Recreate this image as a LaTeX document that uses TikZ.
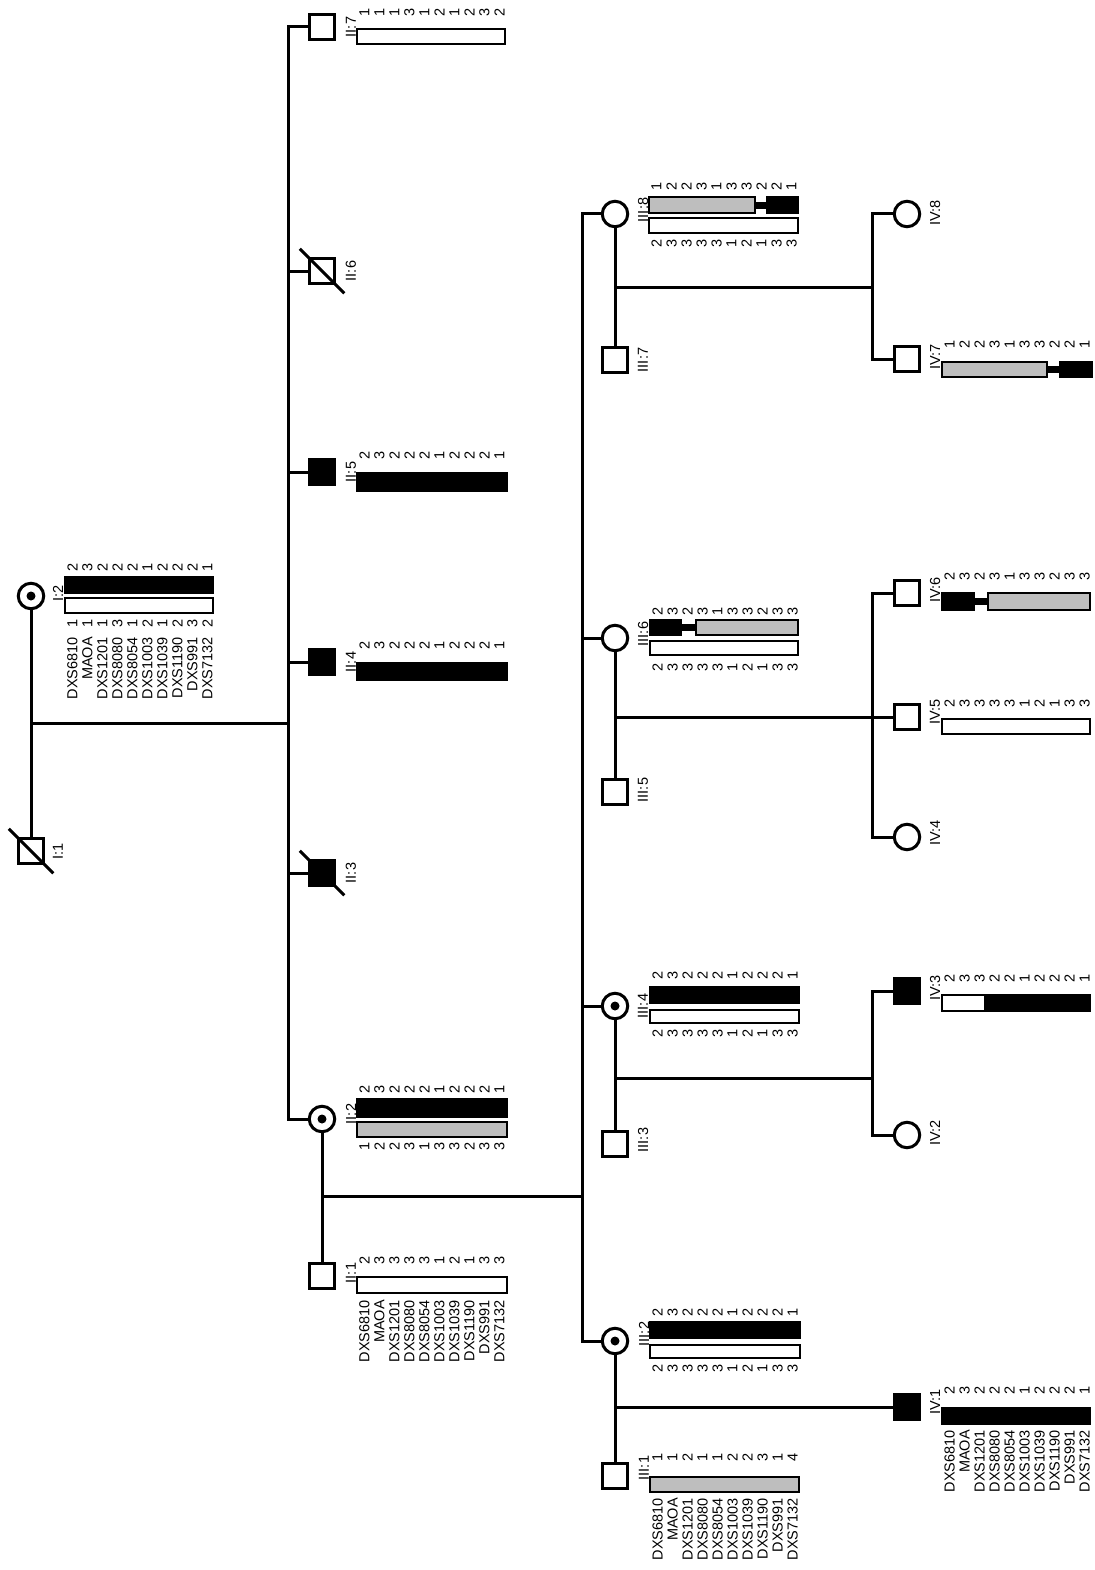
\documentclass[tikz,border=0pt]{standalone}
\usepackage{fontspec}
\setmainfont{Liberation Sans}
\definecolor{HapGray}{RGB}{190,190,190}
\usetikzlibrary{positioning, calc}
\tikzset{
  conn/.style={line width=3pt},
  male/.style={draw, rectangle, line width=3pt, minimum size=25.5pt, inner sep=0pt, fill=white},
  female/.style={draw, circle, line width=3pt, minimum size=25.5pt, inner sep=0pt, fill=white},
  affected/.style={fill=black},
  carrier/.style={female, path picture={\fill[black] (path picture bounding box.center) circle (4.5pt);}},
  idlab/.style={rotate=90, font=\fontsize{14.5}{15}\selectfont, inner sep=0pt},
  allele/.style={rotate=90, font=\fontsize{14.5}{15}\selectfont, inner sep=0pt},
  marker/.style={rotate=90, anchor=east, font=\fontsize{14.5}{15}\selectfont, inner sep=0pt},
  hap/.style={draw, line width=2.6pt},
}
\newcommand{\alleles}[4]{% name, x0, y, values
  \foreach \a [count=\i from 0] in {#4}
    \node[allele] (#1-\i) at ({#2+7.5+15*\i}, #3) {\a};}
\newcommand{\markers}[3]{% name, x0, y
  \foreach \m [count=\i from 0] in {DXS6810, MAOA, DXS1201, DXS8080, DXS8054, DXS1003, DXS1039, DXS1190, DXS991, DXS7132}
    \node[marker] (#1-\i) at ({#2+7.5+15*\i}, #3) {\m};}

\begin{document}
\begin{tikzpicture}[x=1pt, y=-1pt]
    \useasboundingbox (0,0) rectangle (1094,1570);
    % Generation I
    \node[male] (I1) at (31,851) {};
    \node[carrier] (I2) at (31,596) {};
    \coordinate (mI) at (31,723);
    \coordinate (sII) at (288,723);
    \draw[conn] (I2) -- (I1);
    \draw[conn] (mI) -- (sII);
    \draw[conn] ([shift={(-8,-8)}]I1.north west) -- ([shift={(8,8)}]I1.south east);
    \node[idlab] (lI1) at (58,851) {I:1};
    \node[idlab] (lI2) at (58,593) {I:2};
    \draw[hap, fill=black] (65,577) rectangle (213,593);
    \draw[hap, fill=white] (65,598) rectangle (213,613);
    \alleles{aI2}{65}{567}{2,3,2,2,2,1,2,2,2,1}
    \alleles{bI2}{65}{623}{1,1,1,3,1,2,1,2,3,2}
    \markers{mkI2}{65}{637}
    % Generation II
    \node[male] (II7) at (322,27) {};
    \node[male] (II6) at (322,271) {};
    \node[male, affected] (II5) at (322,472) {};
    \node[male, affected] (II4) at (322,662) {};
    \node[male, affected] (II3) at (322,873) {};
    \node[carrier] (II2) at (322,1119) {};
    \node[male] (II1) at (322,1276) {};
    \draw[conn] (II7.west) -| (sII) |- (II2.west);
    \foreach \p in {II6, II5, II4, II3}
        \draw[conn] (sII |- \p) -- (\p);
    \draw[conn] ([shift={(-8,-8)}]II6.north west) -- ([shift={(8,8)}]II6.south east);
    \draw[conn] ([shift={(-8,-8)}]II3.north west) -- ([shift={(8,8)}]II3.south east);
    \node[idlab] (lII7) at (351,27) {II:7};
    \node[idlab] (lII6) at (351,271) {II:6};
    \node[idlab] (lII5) at (351,472) {II:5};
    \node[idlab] (lII4) at (351,662) {II:4};
    \node[idlab] (lII3) at (351,873) {II:3};
    \node[idlab] (lII2) at (351,1114) {II:2};
    \node[idlab] (lII1) at (351,1273) {II:1};
    \draw[hap, fill=white] (357,29) rectangle (505,44);
    \alleles{aII7}{357}{12}{1,1,1,3,1,2,1,2,3,2}
    \draw[hap, fill=black] (357,473) rectangle (507,491);
    \alleles{aII5}{357}{455}{2,3,2,2,2,1,2,2,2,1}
    \draw[hap, fill=black] (357,663) rectangle (507,680);
    \alleles{aII4}{357}{645}{2,3,2,2,2,1,2,2,2,1}
    \draw[hap, fill=black] (357,1099) rectangle (507,1117);
    \draw[hap, fill=HapGray] (357,1122) rectangle (507,1137);
    \alleles{aII2}{357}{1089}{2,3,2,2,2,1,2,2,2,1}
    \alleles{bII2}{357}{1146}{1,2,2,3,1,3,3,2,3,3}
    \draw[hap, fill=white] (357,1277) rectangle (507,1293);
    \alleles{aII1}{357}{1260}{2,3,3,3,3,1,2,1,3,3}
    \markers{mkII1}{357}{1300}
    % marriage II:1 x II:2
    \coordinate (mII) at (322,1196);
    \coordinate (sIII) at (582,1196);
    \draw[conn] (II2) -- (II1);
    \draw[conn] (mII) -- (sIII);
    % Generation III
    \node[female] (III8) at (615,214) {};
    \node[male] (III7) at (615,360) {};
    \node[female] (III6) at (615,638) {};
    \node[male] (III5) at (615,792) {};
    \node[carrier] (III4) at (615,1006) {};
    \node[male] (III3) at (615,1144) {};
    \node[carrier] (III2) at (615,1341) {};
    \node[male] (III1) at (615,1476) {};
    \draw[conn] (III8.west) -| (sIII) |- (III2.west);
    \foreach \p in {III6, III4}
        \draw[conn] (sIII |- \p) -- (\p);
    \foreach \p/\q in {III8/III7, III6/III5, III4/III3, III2/III1}
        \draw[conn] (\p) -- (\q);
    \node[idlab] (lIII8) at (643,210) {III:8};
    \node[idlab] (lIII7) at (643,360) {III:7};
    \node[idlab] (lIII6) at (643,634) {III:6};
    \node[idlab] (lIII5) at (643,790) {III:5};
    \node[idlab] (lIII4) at (643,1006) {III:4};
    \node[idlab] (lIII3) at (643,1140) {III:3};
    \node[idlab] (lIII2) at (644,1334) {III:2};
    \node[idlab] (lIII1) at (644,1468) {III:1};
    \draw[hap, fill=HapGray] (649,197) rectangle (755,213);
    \draw[hap, fill=black] (755,203) rectangle (767,208);
    \draw[hap, fill=black] (767,197) rectangle (798,213);
    \draw[hap, fill=white] (649,218) rectangle (798,233);
    \alleles{aIII8}{649}{186}{1,2,2,3,1,3,3,2,2,1}
    \alleles{bIII8}{649}{243}{2,3,3,3,3,1,2,1,3,3}
    \draw[hap, fill=black] (650,620) rectangle (681,635);
    \draw[hap, fill=black] (681,625) rectangle (696,630);
    \draw[hap, fill=HapGray] (696,620) rectangle (798,635);
    \draw[hap, fill=white] (650,641) rectangle (798,655);
    \alleles{aIII6}{650}{611}{2,3,2,3,1,3,3,2,3,3}
    \alleles{bIII6}{650}{667}{2,3,3,3,3,1,2,1,3,3}
    \draw[hap, fill=black] (650,987) rectangle (799,1003);
    \draw[hap, fill=white] (650,1010) rectangle (799,1023);
    \alleles{aIII4}{650}{975}{2,3,2,2,2,1,2,2,2,1}
    \alleles{bIII4}{650}{1033}{2,3,3,3,3,1,2,1,3,3}
    \draw[hap, fill=black] (650,1322) rectangle (800,1338);
    \draw[hap, fill=white] (650,1345) rectangle (800,1358);
    \alleles{aIII2}{650}{1312}{2,3,2,2,2,1,2,2,2,1}
    \alleles{bIII2}{650}{1368}{2,3,3,3,3,1,2,1,3,3}
    \draw[hap, fill=HapGray] (650,1477) rectangle (799,1492);
    \alleles{aIII1}{650}{1457}{1,1,2,1,1,2,2,3,1,4}
    \markers{mkIII1}{650}{1498}
    % sibships of generation IV
    \coordinate (mIII8) at (615,287);
    \coordinate (sIV8) at (872,287);
    \coordinate (mIII6) at (615,717);
    \coordinate (mIII4) at (615,1078);
    \coordinate (sIV4) at (872,1078);
    \coordinate (mIII2) at (615,1407);
    % Generation IV
    \node[female] (IV8) at (907,214) {};
    \node[male] (IV7) at (907,359) {};
    \node[male] (IV6) at (907,593) {};
    \node[male] (IV5) at (907,717) {};
    \node[female] (IV4) at (907,837) {};
    \node[male, affected] (IV3) at (907,991) {};
    \node[female] (IV2) at (907,1135) {};
    \node[male, affected] (IV1) at (907,1407) {};
    \draw[conn] (mIII8) -- (sIV8);
    \draw[conn] (IV8.west) -| (sIV8) |- (IV7.west);
    \draw[conn] (mIII6) -- (IV5);
    \draw[conn] (IV6.west) -| ($(IV5)+(-35,0)$) |- (IV4.west);
    \draw[conn] (mIII4) -- (sIV4);
    \draw[conn] (IV3.west) -| (sIV4) |- (IV2.west);
    \draw[conn] (mIII2) -- (IV1);
    \node[idlab] (lIV8) at (935,213) {IV:8};
    \node[idlab] (lIV7) at (935,357) {IV:7};
    \node[idlab] (lIV6) at (935,590) {IV:6};
    \node[idlab] (lIV5) at (935,712) {IV:5};
    \node[idlab] (lIV4) at (935,833) {IV:4};
    \node[idlab] (lIV3) at (935,988) {IV:3};
    \node[idlab] (lIV2) at (935,1133) {IV:2};
    \node[idlab] (lIV1) at (935,1402) {IV:1};
    \draw[hap, fill=HapGray] (942,362) rectangle (1047,377);
    \draw[hap, fill=black] (1047,367) rectangle (1060,372);
    \draw[hap, fill=black] (1060,362) rectangle (1092,377);
    \alleles{aIV7}{942}{344}{1,2,2,3,1,3,3,2,2,1}
    \draw[hap, fill=black] (942,593) rectangle (974,610);
    \draw[hap, fill=black] (974,599) rectangle (988,604);
    \draw[hap, fill=HapGray] (988,593) rectangle (1090,610);
    \alleles{aIV6}{942}{576}{2,3,2,3,1,3,3,2,3,3}
    \draw[hap, fill=white] (942,719) rectangle (1090,734);
    \alleles{aIV5}{942}{703}{2,3,3,3,3,1,2,1,3,3}
    \draw[hap, fill=white] (942,995) rectangle (985,1011);
    \draw[hap, fill=black] (985,995) rectangle (1090,1011);
    \alleles{aIV3}{942}{978}{2,3,3,2,2,1,2,2,2,1}
    \draw[hap, fill=black] (942,1408) rectangle (1090,1424);
    \alleles{aIV1}{942}{1390}{2,3,2,2,2,1,2,2,2,1}
    \markers{mkIV1}{942}{1430}
\end{tikzpicture}
\end{document}
